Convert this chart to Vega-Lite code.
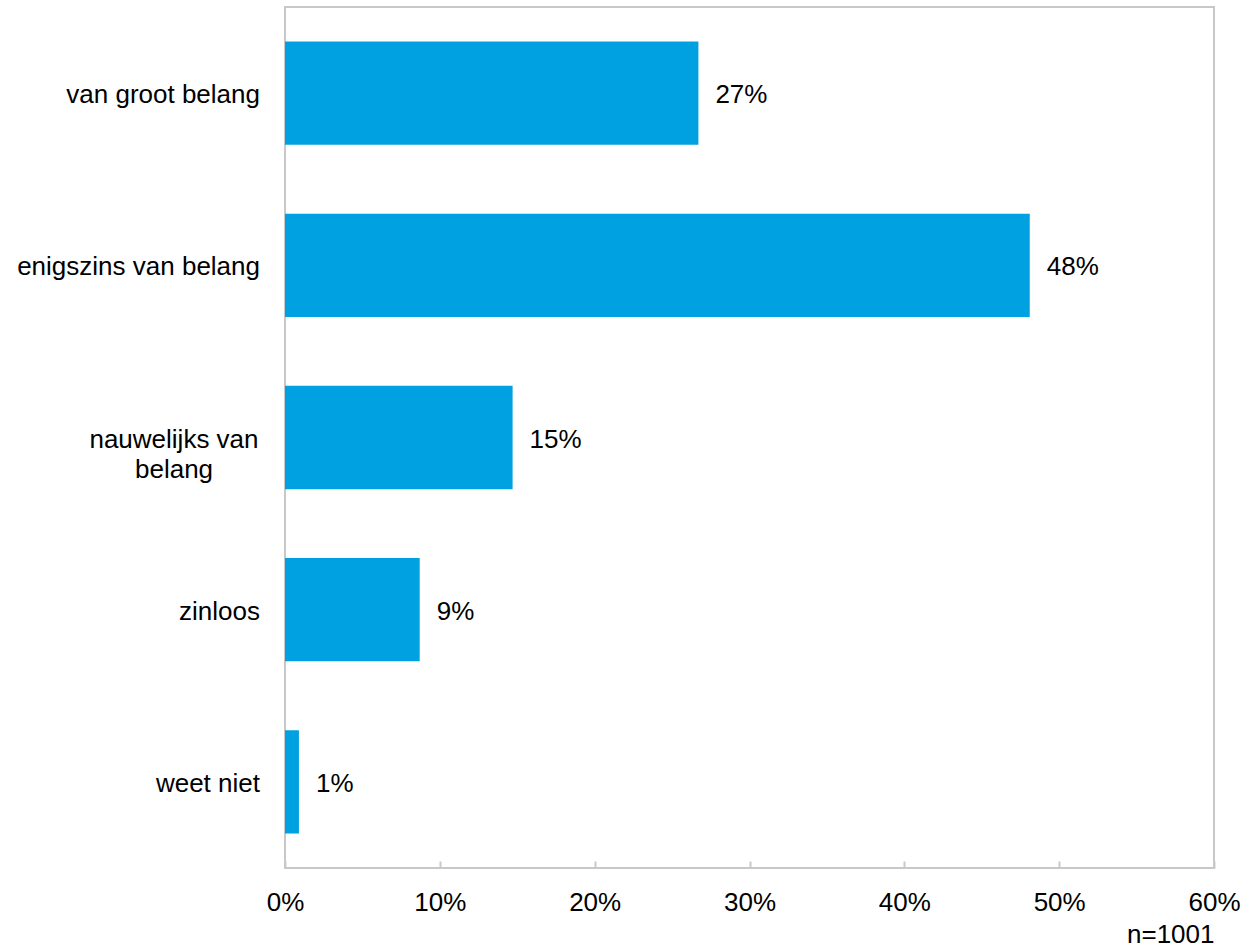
{
  "$schema": "https://vega.github.io/schema/vega-lite/v6.json",
  "width": 929,
  "height": 861,
  "autosize": "none",
  "padding": {"left": 285, "top": 7, "right": 29, "bottom": 82},
  "background": "white",
  "config": {
    "font": "Liberation Sans",
    "view": {"stroke": "#c8c8c8", "strokeWidth": 2}
  },
  "data": {
    "values": [
      {"cat": "van groot belang", "pct": 0.267},
      {"cat": "enigszins van belang", "pct": 0.481},
      {"cat": "nauwelijks van\nbelang", "pct": 0.147},
      {"cat": "zinloos", "pct": 0.087},
      {"cat": "weet niet", "pct": 0.009}
    ]
  },
  "encoding": {
    "y": {
      "field": "cat",
      "type": "nominal",
      "sort": null,
      "scale": {"paddingInner": 0.4, "paddingOuter": 0.2},
      "axis": null
    }
  },
  "layer": [
    {
      "mark": {"type": "bar", "color": "#00A1E0"},
      "encoding": {
        "x": {
          "field": "pct",
          "type": "quantitative",
          "scale": {"domain": [0, 0.6], "nice": false},
          "axis": {
            "values": [0, 0.1, 0.2, 0.3, 0.4, 0.5, 0.6],
            "format": ".0%",
            "grid": false,
            "domain": false,
            "tickColor": "#c8c8c8",
            "tickWidth": 2,
            "tickSize": -7,
            "labelFontSize": 26,
            "labelColor": "black",
            "labelFlush": false,
            "labelPadding": 28,
            "title": "n=1001",
            "titleAnchor": "end",
            "titleAlign": "right",
            "titleFontWeight": "normal",
            "titleFontSize": 26,
            "titleColor": "black",
            "titlePadding": 6
          }
        }
      }
    },
    {
      "mark": {"type": "text", "align": "left", "baseline": "middle", "dx": 17, "dy": 2, "fontSize": 26, "color": "black"},
      "encoding": {
        "x": {"field": "pct", "type": "quantitative"},
        "text": {"field": "pct", "type": "quantitative", "format": ".0%"}
      }
    },
    {
      "transform": [{"filter": "indexof(datum.cat, 'nauwelijks') < 0"}],
      "mark": {"type": "text", "align": "right", "baseline": "middle", "dx": -25, "dy": 2, "fontSize": 26, "color": "black"},
      "encoding": {
        "x": {"datum": 0, "type": "quantitative"},
        "text": {"field": "cat", "type": "nominal"}
      }
    },
    {
      "transform": [{"filter": "indexof(datum.cat, 'nauwelijks') >= 0"}],
      "mark": {"type": "text", "align": "center", "baseline": "middle", "dx": -111, "dy": 2, "fontSize": 26, "lineBreak": "\n", "lineHeight": 30, "color": "black"},
      "encoding": {
        "x": {"datum": 0, "type": "quantitative"},
        "text": {"field": "cat", "type": "nominal"}
      }
    }
  ]
}
